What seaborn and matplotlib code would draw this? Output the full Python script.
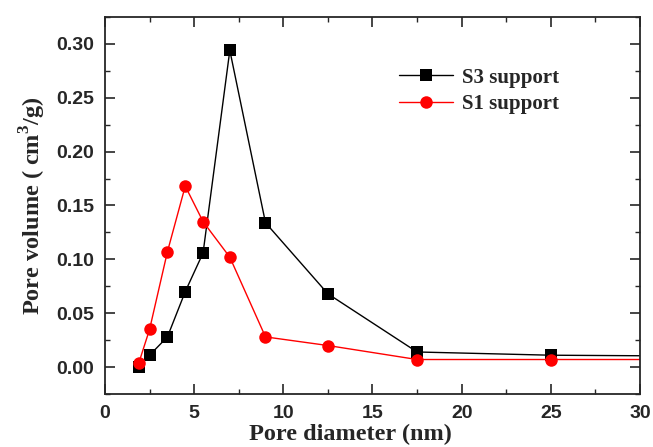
import numpy as np
import pandas as pd
import seaborn as sns
import matplotlib.pyplot as plt
from matplotlib.ticker import MultipleLocator

# pore diameter (nm) and pore volume (cm3/g)
s3_diam = [1.9, 2.5, 3.5, 4.5, 5.5, 7.0, 9.0, 12.5, 17.5, 25.0, 35.0]
s3_vol = [0.000, 0.011, 0.028, 0.070, 0.106, 0.294, 0.134, 0.068, 0.014, 0.011, 0.010]
s1_diam = [1.9, 2.5, 3.5, 4.5, 5.5, 7.0, 9.0, 12.5, 17.5, 25.0, 35.0]
s1_vol = [0.004, 0.035, 0.107, 0.168, 0.135, 0.102, 0.028, 0.020, 0.007, 0.007, 0.007]
marker_shown = [True] * 10 + [False]

sns.set_style("ticks")
plt.rcParams['font.family'] = ['Liberation Sans', 'DejaVu Sans']
plt.rcParams['mathtext.fontset'] = 'custom'
plt.rcParams['mathtext.rm'] = 'Liberation Serif:bold'
plt.rcParams['mathtext.bf'] = 'Liberation Serif:bold'

fig = plt.figure(figsize=(6.53, 4.47), dpi=100)
ax = fig.add_axes([0.1608, 0.1186, 0.8192, 0.8434])

d3 = pd.DataFrame({"x": s3_diam, "y": s3_vol})
d1 = pd.DataFrame({"x": s1_diam, "y": s1_vol})

sns.lineplot(data=d3, x="x", y="y", ax=ax, color="black", lw=1.0,
             marker="s", markersize=8.5, markeredgewidth=0, label="S3 support",
             markevery=marker_shown)
sns.lineplot(data=d1, x="x", y="y", ax=ax, color="red", lw=1.0,
             marker="o", markersize=9, markeredgewidth=0, label="S1 support",
             markevery=marker_shown)

ax.set_xlim(0, 30)
ax.set_ylim(-0.025, 0.325)
ax.xaxis.set_major_locator(MultipleLocator(5))
ax.xaxis.set_minor_locator(MultipleLocator(2.5))
ax.yaxis.set_minor_locator(MultipleLocator(0.025))
ax.set_yticks(np.arange(0, 0.31, 0.05))
ax.set_yticklabels([f"{v:.2f}" for v in np.arange(0, 0.31, 0.05)])
ax.tick_params(which="major", direction="in", length=7, width=1.2,
               top=True, right=True, labelsize=14, pad=8)
ax.tick_params(which="minor", direction="in", length=3.5, width=1.0,
               top=True, right=True)
for lab in ax.get_xticklabels() + ax.get_yticklabels():
    lab.set_fontweight("bold")
for sp in ax.spines.values():
    sp.set_linewidth(1.3)

ax.set_xlabel("Pore diameter (nm)", family="Liberation Serif", fontsize=17.5,
              fontweight="bold", labelpad=1.5)
ax.xaxis.label.set_x(0.458)
ax.set_ylabel("Pore volume ( cm$^3$/g)", family="Liberation Serif",
              fontsize=17.5, fontweight="bold", labelpad=6)

leg = ax.legend(loc="upper left", bbox_to_anchor=(0.515, 0.915), frameon=False,
                prop={"family": "Liberation Serif", "weight": "bold", "size": 15},
                handlelength=2.6, handletextpad=0.4, labelspacing=0.3)

fig.savefig("out.png", dpi=100)
